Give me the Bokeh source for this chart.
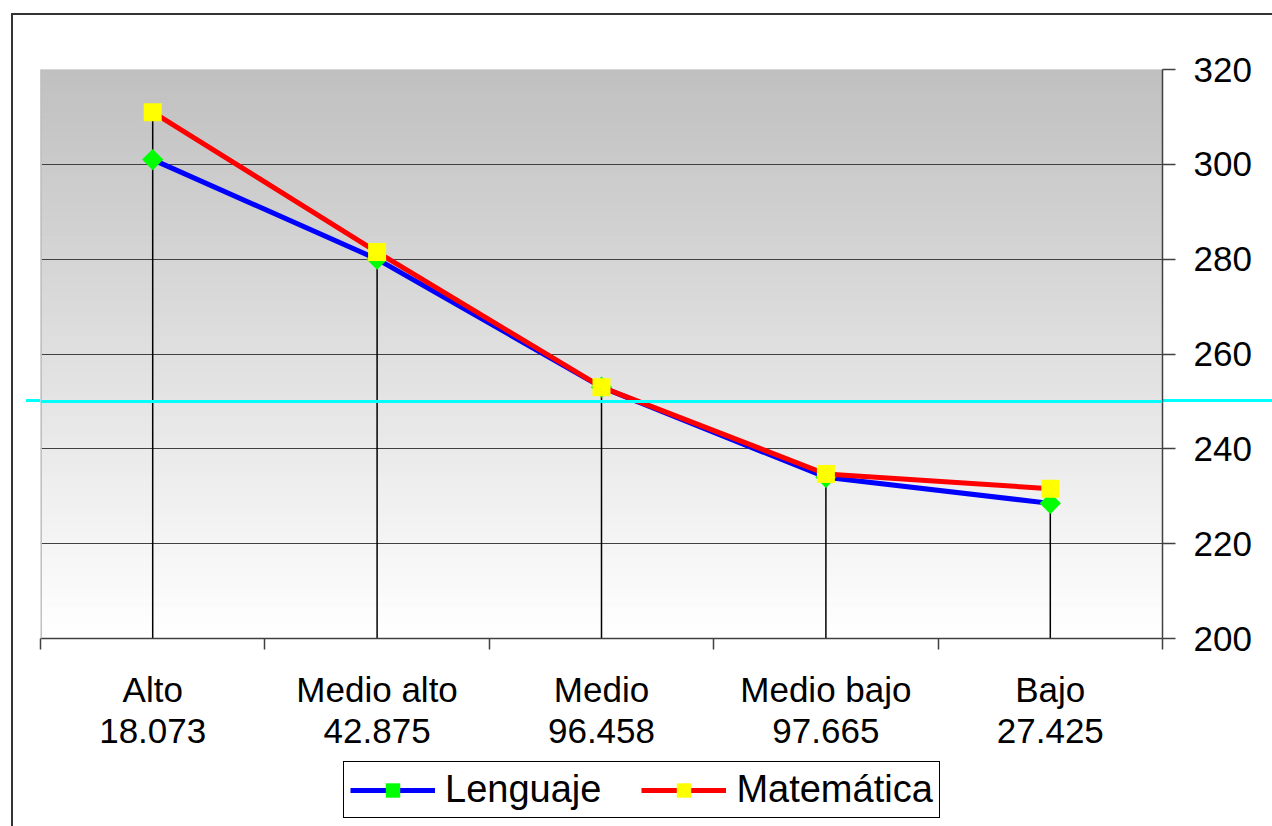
from bokeh.plotting import figure
from bokeh.layouts import column
from bokeh.models import (Range1d, FixedTicker, Legend, LegendItem, Span, LinearAxis)
from bokeh.embed import file_html
from bokeh.resources import INLINE
import numpy as np

# ---- data ----
categories = ["Alto", "Medio alto", "Medio", "Medio bajo", "Bajo"]
counts = ["18.073", "42.875", "96.458", "97.665", "27.425"]
lenguaje = [301.0, 280.0, 253.0, 234.0, 228.5]
matematica = [311.0, 281.5, 253.0, 234.7, 231.6]
series_names = ["Lenguaje", "Matemática"]
reference_level = 250.0
y_ticks = [200, 220, 240, 260, 280, 300, 320]
y_min, y_max = 200, 320

FONT = "Liberation Sans"

xs = [i + 0.5 for i in range(len(categories))]
tops = [max(a, b) for a, b in zip(lenguaje, matematica)]

# decorations outside the plot area (chart border, reference line continuation)
css_bg = ("linear-gradient(#333333,#333333) 11px 13px / 2px 100% no-repeat, "
          "linear-gradient(#333333,#333333) 11px 13px / 1261px 2px no-repeat, "
          "linear-gradient(#00ffff,#00ffff) 26px 399px / 1246px 3px no-repeat, #ffffff")
css_bg2 = "linear-gradient(#333333,#333333) 11px 0px / 2px 100% no-repeat, #ffffff"

p = figure(width=1272, height=757, output_backend="svg", toolbar_location=None,
           x_range=Range1d(0, len(categories)), y_range=Range1d(y_min, y_max),
           y_axis_location="right",
           min_border_left=40, min_border_top=69, min_border_right=110, min_border_bottom=119)
p.styles = {"background": css_bg}
p.outline_line_color = None
p.background_fill_color = "white"
p.border_fill_color = None
p.border_fill_alpha = 0

# gradient background of the plot area
n = 120
edges = np.linspace(y_min, y_max, n + 1)
shades = np.linspace(255, 192, n)
grad_colors = []
for s in shades:
    v = int(round(s))
    grad_colors.append("#%02x%02x%02x" % (v, v, v))
p.quad(left=0, right=len(categories), bottom=edges[:-1], top=edges[1:],
       fill_color=grad_colors, line_color=grad_colors, line_width=1, level="image")

# grid
p.xgrid.grid_line_color = None
p.ygrid.grid_line_color = "#404040"
p.ygrid.grid_line_width = 1
p.ygrid.ticker = FixedTicker(ticks=y_ticks[1:-1])

# left edge of the plot area
p.add_layout(Span(location=0, dimension="height", line_color="#c0c0c0", line_width=3))

# right y axis
yax = p.yaxis[0]
yax.ticker = FixedTicker(ticks=y_ticks)
yax.major_tick_out = 13
yax.major_tick_in = 0
yax.minor_tick_out = 0
yax.minor_tick_in = 0
yax.axis_line_color = "#404040"
yax.axis_line_width = 1.5
yax.major_tick_line_color = "#404040"
yax.major_tick_line_width = 1.5
yax.major_label_text_font = FONT
yax.major_label_text_font_size = "35px"
yax.major_label_text_color = "black"
yax.major_label_standoff = 18

# bottom x axis: category names
xax = p.xaxis[0]
xax.ticker = FixedTicker(ticks=xs, minor_ticks=list(range(len(categories) + 1)))
xax.major_label_overrides = {x: c for x, c in zip(xs, categories)}
xax.major_tick_out = 0
xax.major_tick_in = 0
xax.major_tick_line_color = None
xax.minor_tick_out = 11
xax.minor_tick_in = 0
xax.minor_tick_line_color = "#404040"
xax.minor_tick_line_width = 1.5
xax.axis_line_color = "#404040"
xax.axis_line_width = 1.5
xax.major_label_text_font = FONT
xax.major_label_text_font_size = "35px"
xax.major_label_text_color = "black"
xax.major_label_standoff = 20

# second row of labels: counts
xax2 = LinearAxis(ticker=FixedTicker(ticks=xs),
                  major_label_overrides={x: c for x, c in zip(xs, counts)},
                  axis_line_color=None, major_tick_line_color=None, minor_tick_line_color=None,
                  major_tick_out=0, major_tick_in=0, minor_tick_out=0, minor_tick_in=0,
                  major_label_text_font=FONT, major_label_text_font_size="35px",
                  major_label_text_color="black", major_label_standoff=7)
p.add_layout(xax2, "below")

# drop lines
p.segment(x0=xs, y0=[y_min] * len(xs), x1=xs, y1=tops, line_color="black", line_width=1.5)

# reference line
p.add_layout(Span(location=reference_level, dimension="width",
                  line_color="#00ffff", line_width=3))

# series
line_style_1 = dict(line_color="#0000ff", line_width=5)
mark_style_1 = dict(marker="square", angle=np.pi / 4, size=15, fill_color="#00ff00", line_color=None)
line_style_2 = dict(line_color="#ff0000", line_width=5)
mark_style_2 = dict(marker="square", size=18, fill_color="#ffff00", line_color=None)

p.line(xs, lenguaje, **line_style_1)
p.scatter(xs, lenguaje, **mark_style_1)
p.line(xs, matematica, **line_style_2)
p.scatter(xs, matematica, **mark_style_2)

# ---- legend strip below the chart (series drawn out of view, only the legend shows) ----
q = figure(width=1272, height=69, output_backend="svg", toolbar_location=None,
           x_range=Range1d(0, 1), y_range=Range1d(0, 1),
           x_axis_location=None, y_axis_location=None,
           min_border_left=0, min_border_right=0, min_border_top=0, min_border_bottom=0)
q.styles = {"background": css_bg2}
q.outline_line_color = None
q.grid.grid_line_color = None
q.background_fill_alpha = 0
q.border_fill_alpha = 0

ql1 = q.line(xs, lenguaje, **line_style_1)
qm1 = q.scatter(xs, lenguaje, **mark_style_1)
ql2 = q.line(xs, matematica, **line_style_2)
qm2 = q.scatter(xs, matematica, **mark_style_2)

legend = Legend(items=[LegendItem(label=series_names[0], renderers=[ql1, qm1]),
                       LegendItem(label=series_names[1], renderers=[ql2, qm2])],
                location=(303, 8), orientation="horizontal",
                border_line_color="black", border_line_width=1.5, border_line_alpha=1,
                background_fill_color="white", background_fill_alpha=1,
                label_text_font=FONT, label_text_font_size="38px",
                label_text_color="black",
                glyph_width=85, glyph_height=36, label_standoff=10,
                spacing=40, padding=6, margin=0)
q.add_layout(legend, "center")

layout = column(p, q, spacing=0)
open("out.html", "w").write(file_html(layout, INLINE))
